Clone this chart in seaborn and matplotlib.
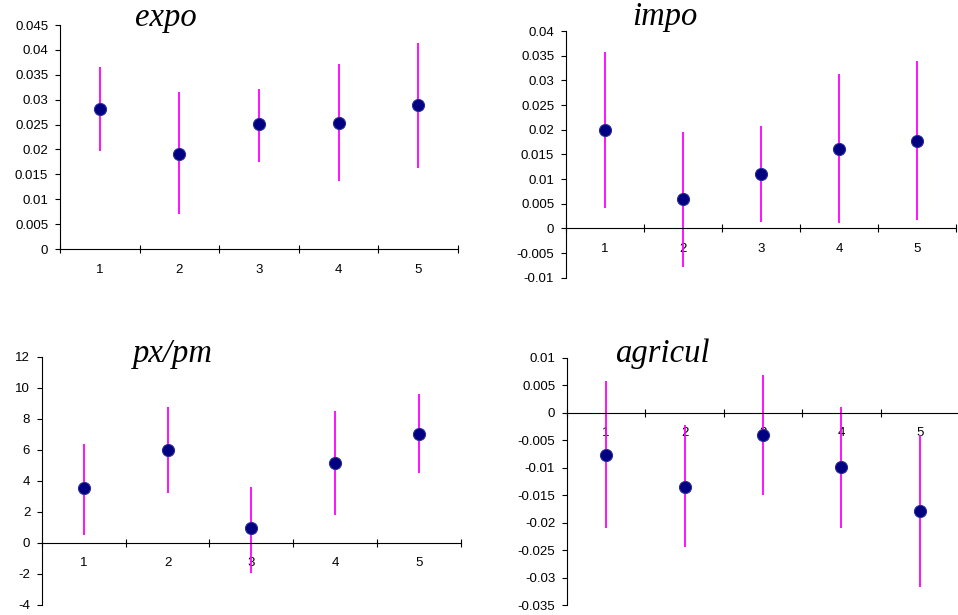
import numpy as np
import pandas as pd
import matplotlib
matplotlib.use("Agg")
import matplotlib.pyplot as plt
import matplotlib.ticker as ticker
import seaborn as sns

# category positions (1..5) and the point estimates with their intervals
categories = [1, 2, 3, 4, 5]

expo_mean = [0.0281, 0.0191, 0.0251, 0.0253, 0.0290]
expo_low = [0.0196, 0.0070, 0.0175, 0.0137, 0.0162]
expo_high = [0.0366, 0.0315, 0.0321, 0.0372, 0.0414]

impo_mean = [0.0200, 0.0059, 0.0110, 0.0161, 0.0178]
impo_low = [0.0041, -0.0078, 0.0013, 0.0010, 0.0016]
impo_high = [0.0358, 0.0196, 0.0207, 0.0312, 0.0340]

pxpm_mean = [3.50, 5.95, 0.92, 5.14, 7.03]
pxpm_low = [0.52, 3.23, -1.94, 1.78, 4.49]
pxpm_high = [6.40, 8.75, 3.61, 8.49, 9.57]

agri_mean = [-0.0076, -0.0135, -0.0041, -0.0099, -0.0178]
agri_low = [-0.0209, -0.0244, -0.0150, -0.0209, -0.0317]
agri_high = [0.0057, -0.0023, 0.0069, 0.0011, -0.0041]

titles = ["expo", "impo", "px/pm", "agricul"]

sns.set_theme(style="white")
plt.rcParams["font.family"] = ["Liberation Sans", "DejaVu Sans"]

fig = plt.figure(figsize=(9.58, 6.15), dpi=100)

W, H = 958, 615


def px_axes(x0, x1, ytop, ybot):
    # build an axes from pixel edges of the reference
    return fig.add_axes([x0 / W, 1 - ybot / H, (x1 - x0) / W, (ybot - ytop) / H])


panels = [
    # axes pixels, ylim, ystep, data, title pos (x, baseline)
    (px_axes(60, 458, 25, 249), (0, 0.045), 0.005,
     (expo_mean, expo_low, expo_high), (135, 26)),
    (px_axes(566, 956, 31, 277.7), (-0.01, 0.04), 0.005,
     (impo_mean, impo_low, impo_high), (632, 25)),
    (px_axes(42, 460.7, 356.7, 604.7), (-4, 12), 2,
     (pxpm_mean, pxpm_low, pxpm_high), (133, 362)),
    (px_axes(567, 959, 357.7, 605.3), (-0.035, 0.01), 0.005,
     (agri_mean, agri_low, agri_high), (615, 362)),
]

for (ax, ylim, ystep, (mean, low, high), (tx, ty)), title in zip(panels, titles):
    df = pd.DataFrame({"cat": categories, "mean": mean, "low": low, "high": high})

    # magenta interval lines behind the points
    ax.vlines(df["cat"], df["low"], df["high"], color="#FF00FF", linewidth=1.3, zorder=2)
    sns.scatterplot(data=df, x="cat", y="mean", ax=ax, s=75, color="#000080",
                    edgecolor="#2a2a9a", linewidth=0.8, zorder=3, legend=False)

    ax.set_xlim(0.5, 5.5)
    ax.set_ylim(*ylim)
    ax.set_xlabel("")
    ax.set_ylabel("")

    # Excel-like axes: x axis crossing at zero, no box
    for side in ["top", "right"]:
        ax.spines[side].set_visible(False)
    ax.spines["bottom"].set_position(("data", 0))
    ax.spines["left"].set_position(("data", 0.5))
    for side in ["bottom", "left"]:
        ax.spines[side].set_color("black")
        ax.spines[side].set_linewidth(0.8)

    # tick marks between categories, labels at the centres
    ax.xaxis.set_major_locator(ticker.FixedLocator(np.arange(0.5, 6.0, 1.0)))
    ax.xaxis.set_major_formatter(ticker.NullFormatter())
    ax.xaxis.set_minor_locator(ticker.FixedLocator(categories))
    ax.xaxis.set_minor_formatter(ticker.FixedFormatter([str(c) for c in categories]))
    ax.tick_params(axis="x", which="major", direction="inout", length=6, width=0.8,
                   color="black", bottom=True)
    ax.tick_params(axis="x", which="minor", length=0, pad=10.5, labelsize=9.5,
                   labelcolor="black", bottom=True)

    ax.yaxis.set_major_locator(ticker.MultipleLocator(ystep))
    ax.yaxis.set_major_formatter(ticker.FuncFormatter(lambda v, p: "%g" % round(v, 6)))
    ax.tick_params(axis="y", direction="out", length=3.5, width=0.8, pad=5,
                   labelsize=9.5, labelcolor="black", color="black", left=True)

    ax.set_facecolor("none")
    ax.grid(False)

    fig.text(tx / W, 1 - ty / H, title, family=["Liberation Serif", "DejaVu Serif"],
             style="italic", fontsize=23.5, ha="left", va="baseline", color="black")

fig.savefig("out.png", dpi=100)
plt.close(fig)
